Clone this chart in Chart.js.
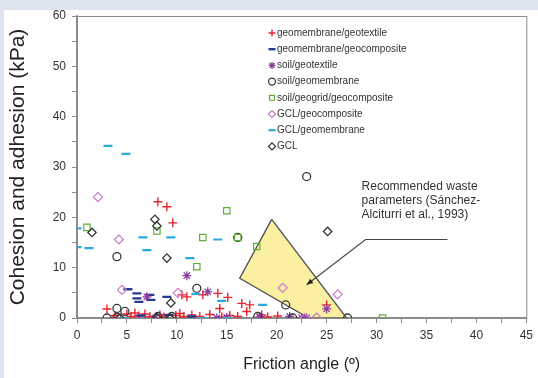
<!DOCTYPE html>
<html>
<head>
<meta charset="utf-8">
<script src="https://cdn.jsdelivr.net/npm/chart.js@4/dist/chart.umd.min.js"></script>
<style>
  html, body { margin:0; padding:0; background:#dfe5f0; width:538px; height:378px; overflow:hidden; }
  #panel { position:absolute; left:4px; top:10px; width:534px; height:368px; background:#ffffff; }
  #wrap { position:absolute; left:0; top:0; width:538px; height:378px; }
</style>
</head>
<body>
<div id="panel"></div>
<div id="wrap"><canvas id="c" width="538" height="378"></canvas></div>
<script>
// ---- data (friction angle °, cohesion/adhesion kPa) ----
const seriesNames = ['geomembrane/geotextile','geomembrane/geocomposite','soil/geotextile','soil/geomembrane',
  'soil/geogrid/geocomposite','GCL/geocomposite','GCL/geomembrane','GCL'];

const geomembraneGeotextile = [[3.0,1.8],[8.1,23.1],[9.0,22.1],[9.6,18.9],[10.5,4.6],[11.0,4.2],[12.6,4.6],[14.1,4.9],
  [15.1,4.1],[14.3,1.9],[16.5,2.9],[17.3,2.6],[17.0,1.3],[25.0,2.6],[3.8,0.5],[5.0,0.8],[5.4,0.3],[5.8,1.0],[6.2,0.4],
  [6.8,0.8],[7.3,0.3],[8.3,0.6],[8.7,0.2],[9.9,0.5],[10.3,0.9],[10.7,0.3],[11.5,0.6],[12.3,0.3],[13.3,0.7],[14.5,0.2],
  [15.3,0.5],[16.1,0.3],[18.5,0.6],[19.1,0.2],[20.1,0.4]];
const geomembraneGeocomposite = [[5.1,5.7],[6.0,4.9],[6.0,3.9],[6.2,3.2],[7.3,4.6],[7.4,3.6],[9.0,4.2],[9.2,0.6],[11.5,0.3],[6.4,0.5]];
const soilGeotextile = [[7.0,4.2],[11.0,8.4],[13.1,5.2],[14.0,0.0],[15.0,0.1],[7.8,0.0],[21.3,0.3],[25.0,1.8],[18.3,0.2],[22.5,0.0],[23.0,0.0]];
const soilGeomembrane = [[23.0,28.1],[4.0,12.2],[12.0,5.9],[20.9,2.6],[27.1,0.0],[21.6,0.0],[18.1,0.3],[3.0,0.0],[4.0,0.1],
  [4.0,1.9],[8.1,0.3],[9.5,0.3],[4.8,1.3],[16.1,16.0]];
const soilGeogridGeocomposite = [[1.0,18.0],[8.0,17.3],[12.6,16.0],[15.0,21.3],[16.1,16.0],[18.0,14.2],[12.0,10.2],[30.6,0.0]];
const gclGeocomposite = [[2.1,24.0],[4.2,15.6],[4.5,5.6],[10.1,5.0],[20.6,6.0],[26.1,4.7],[24.0,0.1],[22.8,0.0]];
const gclGeomembrane = [[3.1,34.2],[4.9,32.6],[0.0,17.8],[0.0,14.1],[1.2,13.9],[6.6,16.0],[9.4,16.0],[7.0,13.5],[14.1,15.6],
  [11.3,11.9],[11.9,4.8],[14.5,3.4],[18.6,2.6],[4.8,0.0],[12.6,0.0],[15.0,0.0]];
const gcl = [[1.5,17.0],[7.8,19.6],[8.0,18.3],[9.0,11.9],[9.4,3.0],[25.1,17.2],[8.0,0.1],[9.3,0.0],[4.3,0.0]];

// recommended waste parameters region and callout
const recommendedRegion = [[19.5,19.6],[16.3,7.9],[23.2,0.0],[27.0,0.0],[19.5,19.6]];
const calloutLine = [[37.1,15.6],[28.9,15.6],[23.0,6.6]];
const calloutText = ['Recommended waste','parameters (Sánchez-','Alciturri et al., 1993)'];

const xTicksMax = 45, yTicksMax = 60;

const toPts = a => a.map(p => ({x:p[0], y:p[1]}));

const styles = [
  {data:geomembraneGeotextile, color:'#e8232f', style:'cross', r:4.5, w:1.4},
  {data:geomembraneGeocomposite, color:'#253a8f', style:'line', r:4.5, w:2.4},
  {data:soilGeotextile, color:'#8a3d9e', style:'star', r:4.5, w:1.3},
  {data:soilGeomembrane, color:'#3a3a3a', style:'circle', r:4, w:1.3},
  {data:soilGeogridGeocomposite, color:'#5fae33', style:'rect', r:4.5, w:1.2},
  {data:gclGeocomposite, color:'#cc77cc', style:'rectRot', r:4.5, w:1.2},
  {data:gclGeomembrane, color:'#2aa8e0', style:'line', r:4.5, w:2.2},
  {data:gcl, color:'#333333', style:'rectRot', r:4.2, w:1.3}
];

const datasets = styles.map((s,i) => ({
  label: seriesNames[i],
  data: toPts(s.data),
  pointStyle: s.style,
  pointRadius: s.r,
  pointBorderWidth: s.w,
  pointBorderColor: s.color,
  pointBackgroundColor: 'rgba(0,0,0,0)',
  borderColor: s.color,
  showLine: false,
  order: 10 - i
}));

datasets.push({
  label: 'region', data: toPts(recommendedRegion), showLine: true, fill: 'shape',
  backgroundColor: '#fbf0a2', borderColor: '#555555', borderWidth: 1.4, pointRadius: 0, order: 100, tension: 0
});
datasets.push({
  label: 'callout', data: toPts(calloutLine), showLine: true, fill: false,
  borderColor: '#444444', borderWidth: 1.2, pointRadius: 0, order: 0, tension: 0
});

const FONT = '"Liberation Sans", Arial, sans-serif';

const frame = {
  id: 'frame',
  afterDatasetsDraw(chart) {
    const {ctx, chartArea:a, scales:{x, y}} = chart;
    ctx.save();
    ctx.strokeStyle = '#8c8c8c'; ctx.lineWidth = 1;
    ctx.strokeRect(a.left + 0.5, a.top + 0.5, a.right - a.left, a.bottom - a.top);
    // arrow head at callout end
    const p1 = calloutLine[1], p2 = calloutLine[2];
    const x1 = x.getPixelForValue(p1[0]), y1 = y.getPixelForValue(p1[1]);
    const x2 = x.getPixelForValue(p2[0]), y2 = y.getPixelForValue(p2[1]);
    const ang = Math.atan2(y2 - y1, x2 - x1);
    ctx.fillStyle = '#222';
    ctx.beginPath();
    ctx.moveTo(x2, y2);
    ctx.lineTo(x2 - 7*Math.cos(ang - 0.4), y2 - 7*Math.sin(ang - 0.4));
    ctx.lineTo(x2 - 7*Math.cos(ang + 0.4), y2 - 7*Math.sin(ang + 0.4));
    ctx.closePath(); ctx.fill();
    // callout text
    ctx.fillStyle = '#333';
    ctx.font = '12px ' + FONT;
    ctx.textBaseline = 'middle'; ctx.textAlign = 'left';
    const tx = x.getPixelForValue(28.5);
    calloutText.forEach((t, i) => ctx.fillText(t, tx, y.getPixelForValue(26.1) + i*14));
    // legend
    ctx.font = '10px ' + FONT;
    styles.forEach((s, i) => {
      const ly = 33 + i*16.2;
      ctx.strokeStyle = s.color; ctx.fillStyle = 'rgba(0,0,0,0)';
      ctx.lineWidth = s.w;
      Chart.helpers.drawPoint(ctx, {pointStyle: s.style, radius: 3.5, rotation: 0, borderWidth: s.w}, 272, ly);
      ctx.fillStyle = '#333';
      ctx.fillText(seriesNames[i], 277, ly);
    });
    ctx.restore();
  }
};

new Chart(document.getElementById('c'), {
  type: 'scatter',
  data: { datasets },
  options: {
    responsive: false, animation: false, devicePixelRatio: 1,
    layout: { padding: { top: 16, right: 11, left: 0, bottom: 0 } },
    plugins: { legend: { display: false }, tooltip: { enabled: false } },
    scales: {
      x: {
        type: 'linear', min: 0, max: xTicksMax,
        afterFit(s) { s.height = 60; },
        ticks: { stepSize: 2.5, autoSkip: false, maxRotation: 0, color: '#333', padding: 5,
          font: { size: 12, family: FONT },
          callback: v => (v % 5 === 0 ? v : '') },
        grid: { drawOnChartArea: false, tickLength: 5, color: '#8c8c8c' },
        border: { color: '#8c8c8c', width: 1.5 },
        title: { display: true, text: 'Friction angle (º)', color: '#222',
          font: { size: 16, family: FONT }, padding: { top: 8 } }
      },
      y: {
        type: 'linear', min: 0, max: yTicksMax,
        afterFit(s) { s.width = 77; },
        ticks: { stepSize: 5, autoSkip: false, color: '#333', padding: 6,
          font: { size: 12, family: FONT },
          callback: v => (v % 10 === 0 ? v : '') },
        grid: { drawOnChartArea: false, tickLength: 5, color: '#8c8c8c' },
        border: { color: '#8c8c8c', width: 1.5 },
        title: { display: true, text: 'Cohesion and adhesion (kPa)', color: '#222',
          font: { size: 21, family: FONT }, padding: { top: 6, bottom: 0 } }
      }
    }
  },
  plugins: [frame]
});
</script>
</body>
</html>
